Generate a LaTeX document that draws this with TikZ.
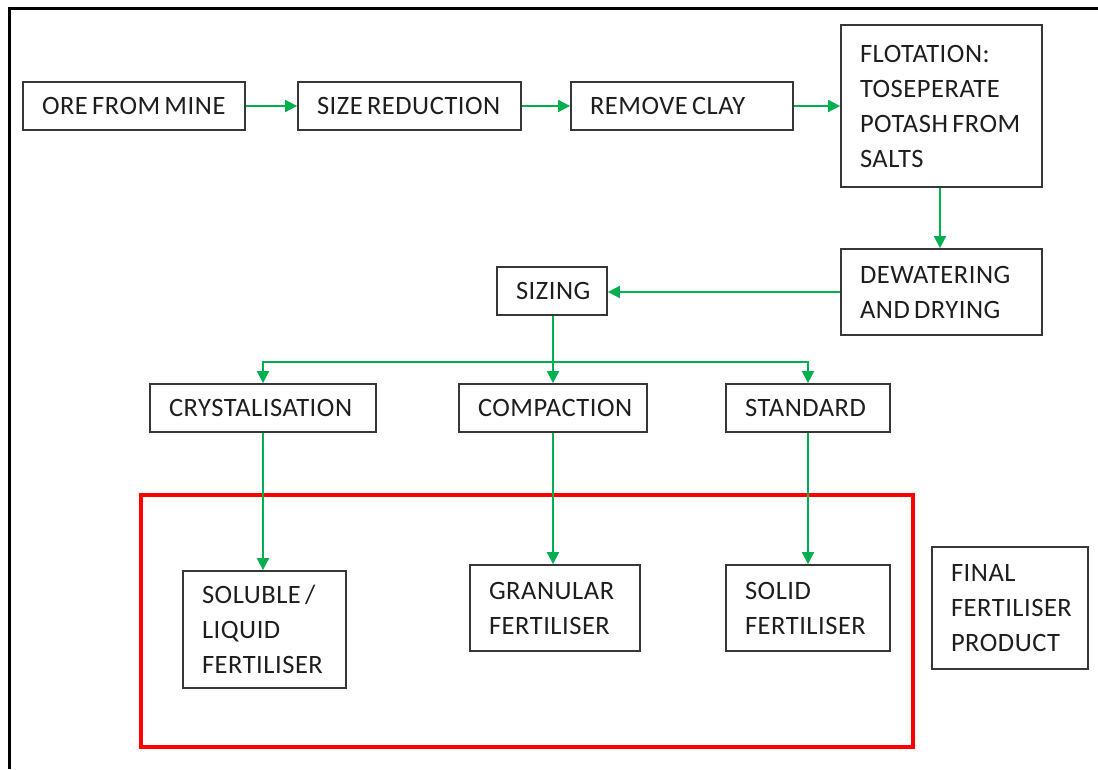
\documentclass[tikz,border=0pt]{standalone}
\usepackage{fontspec}
\setmainfont{Carlito}[LetterSpace=2]
\usetikzlibrary{arrows.meta}
\definecolor{flowgreen}{RGB}{0,176,80}
\definecolor{boxline}{RGB}{55,55,55}
\definecolor{boxtext}{RGB}{30,30,30}
\lefthyphenmin=64
\tikzset{
  box/.style={draw=boxline, line width=1.8pt, text=boxtext, align=left,
    inner xsep=19pt, inner ysep=0pt, anchor=center,
    font=\fontsize{26.5}{35}\selectfont},
  flow/.style={draw=flowgreen, line width=1.8pt,
    -{Triangle[length=12pt,width=12pt]}},
}
\newcommand{\procbox}[6]{% name, x1, y1, x2, y2, text
  \pgfmathsetmacro{\bw}{#4-#2}\pgfmathsetmacro{\bh}{#5-#3}
  \pgfmathsetmacro{\tw}{#4-#2-38}
  \node[box, minimum width=\bw pt, minimum height=\bh pt, text width=\tw pt]
    (#1) at ({(#2+#4)/2},{(#3+#5)/2})
    {\hyphenpenalty=10000 \spaceskip=0.16em\relax #6};}
\begin{document}
\begin{tikzpicture}[x=1pt,y=-1pt]
\useasboundingbox (0,0) rectangle (1098,769);
\fill[white] (0,0) rectangle (1098,769);
% page frame
\draw[line width=3pt] (9.5,769) -- (9.5,8) -- (1098,8);

% process steps
\procbox{ore}{23}{82}{245}{130}{ORE~FROM~MINE}
\procbox{size}{298}{82}{521}{130}{SIZE~REDUCTION}
\procbox{clay}{571}{82}{793}{130}{REMOVE~CLAY}
\procbox{flot}{841}{25}{1042}{187}{FLOTATION:\\TOSEPERATE\\POTASH~FROM\\SALTS}
\procbox{dew}{841}{249}{1042}{335}{DEWATERING\\AND~DRYING}
\procbox{sizing}{497}{267}{607}{315}{SIZING}
\procbox{cryst}{150}{384}{376}{432}{CRYSTALISATION}
\procbox{comp}{459}{384}{647}{432}{COMPACTION}
\procbox{std}{726}{384}{890}{432}{STANDARD}
\procbox{sol}{183}{571}{346}{688}{SOLUBLE~/\\LIQUID\\FERTILISER}
\procbox{gran}{470}{565}{640}{651}{GRANULAR\\FERTILISER}
\procbox{solid}{726}{565}{890}{651}{SOLID\\FERTILISER}
\procbox{final}{932}{547}{1088}{669}{FINAL\\FERTILISER\\PRODUCT}

% final product frame
\draw[red, line width=4pt] (141,495) rectangle (913,747);

% connectors
\draw[flow] (ore.east) -- (size.west);
\draw[flow] (size.east) -- (clay.west);
\draw[flow] (clay.east) -- (flot.west);
\draw[flow] (flot.south -| 940,0) -- (dew.north -| 940,0);
\draw[flow] (dew.west) -- (sizing.east |- dew.west);
\coordinate (bus) at (553,362);
\draw[flow] (sizing.south -| bus) -- (bus) -| (cryst.north);
\draw[flow] (bus) -- (bus |- comp.north);
\draw[flow] (bus) -| (std.north);
\draw[flow] (cryst.south) -- (cryst.south |- sol.north);
\draw[flow] (bus |- comp.south) -- (bus |- gran.north);
\draw[flow] (std.south) -- (std.south |- solid.north);
\end{tikzpicture}
\end{document}
